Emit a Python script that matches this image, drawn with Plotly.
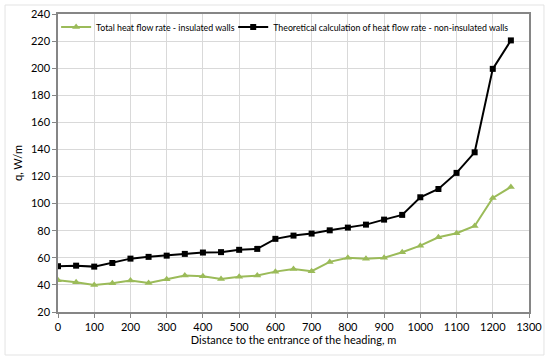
import plotly.graph_objects as go

distance_m = [0, 50, 100, 150, 200, 250, 300, 350, 400, 450, 500, 550, 600,
              650, 700, 750, 800, 850, 900, 950, 1000, 1050, 1100, 1150, 1200, 1250]
insulated = [43.4, 42.0, 40.0, 41.2, 43.2, 41.5, 44.2, 46.9, 46.4, 44.4, 46.1, 46.9, 49.8,
             51.8, 50.1, 57.0, 60.0, 59.4, 60.0, 64.1, 69.0, 75.2, 78.1, 83.5, 104.2, 112.3]
non_insulated = [53.8, 54.2, 53.5, 56.2, 59.4, 60.7, 61.6, 62.9, 63.9, 64.2, 65.9, 66.6, 74.0,
                 76.4, 77.9, 80.3, 82.3, 84.5, 88.2, 91.7, 104.7, 110.8, 122.7, 137.9, 199.5, 220.5]

name_ins = "Total heat flow rate - insulated walls"
name_non = "Theoretical calculation of heat flow rate - non-insulated walls"

fig = go.Figure()
fig.add_trace(go.Scatter(
    x=distance_m, y=insulated, name=name_ins, mode="lines+markers",
    line=dict(color="#9bbb59", width=2),
    marker=dict(symbol="triangle-up", size=7, color="#9bbb59"),
    legend="legend",
))
fig.add_trace(go.Scatter(
    x=distance_m, y=non_insulated, name=name_non, mode="lines+markers",
    line=dict(color="#000000", width=2),
    marker=dict(symbol="square", size=6, color="#000000"),
    legend="legend2",
))

axis_common = dict(
    showgrid=True, gridcolor="#d9d9d9", gridwidth=1,
    showline=True, linecolor="#868686", linewidth=1.5, mirror=True,
    ticks="outside", ticklen=4, tickcolor="#868686",
    tickfont=dict(family="Lato", size=11, color="#000000"),
    zeroline=False, automargin=False,
)

legend_common = dict(xanchor="left", yanchor="middle", y=0.956,
                     bgcolor="rgba(0,0,0,0)", font=dict(family="Lato", size=8.8),
                     itemwidth=30)

fig.update_layout(
    width=550, height=362,
    margin=dict(l=58, r=21, t=14, b=50),
    paper_bgcolor="white", plot_bgcolor="white",
    font=dict(family="Lato", size=11, color="#000000"),
    showlegend=True,
    legend=dict(x=-0.004, **legend_common),
    legend2=dict(x=0.372, **legend_common),
    xaxis=dict(range=[0, 1300], dtick=100, tick0=0,
               title=dict(text="Distance to the entrance of the heading, m",
                          font=dict(family="Lato", size=11), standoff=4),
               **axis_common),
    yaxis=dict(range=[20, 240], dtick=20, tick0=20,
               title=dict(text="q, W/m", font=dict(family="Lato", size=11), standoff=6),
               **axis_common),
    shapes=[dict(type="rect", xref="paper", yref="paper",
                 x0=-0.1124, x1=1.0318, y0=-0.1443, y1=1.0302,
                 line=dict(color="#e3e3e3", width=1), layer="below")],
)

fig.write_html("out.html", config={"displayModeBar": False},
               post_script="document.body.style.margin='0';document.body.style.overflow='hidden';")
